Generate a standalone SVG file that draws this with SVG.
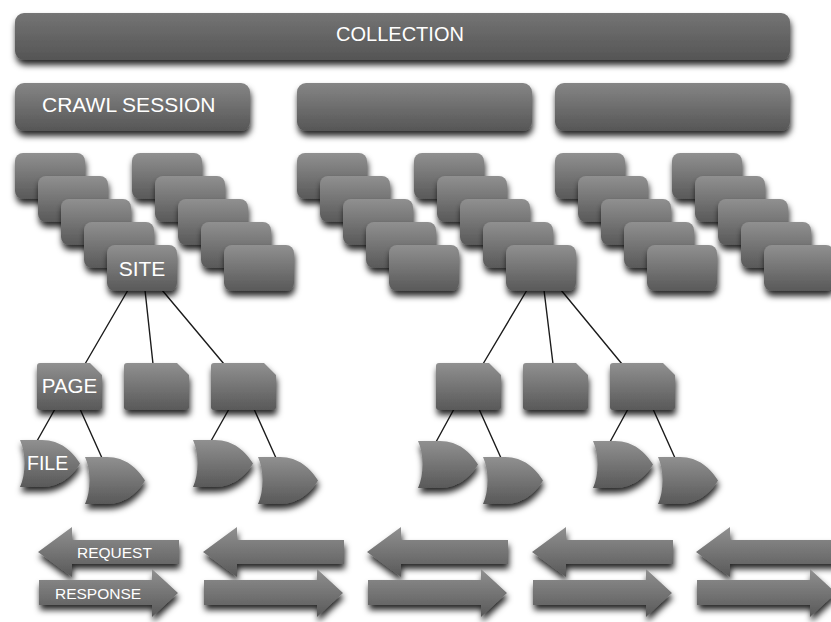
<svg xmlns="http://www.w3.org/2000/svg" xmlns:xlink="http://www.w3.org/1999/xlink" width="831" height="622" viewBox="0 0 831 622">
  <style>
    .lbl { font-family: "Liberation Sans", Arial, Helvetica, sans-serif; fill: #ffffff; }
    .link { stroke: #1c1c1c; stroke-width: 1.4; fill: none; stroke-linecap: round; }
    .sh { filter: url(#shadow); }
  </style>
  <defs>
    <linearGradient id="gCard" x1="0" y1="0" x2="0" y2="1">
      <stop offset="0" stop-color="#909090"/>
      <stop offset="1" stop-color="#595959"/>
    </linearGradient>
    <linearGradient id="gBar" x1="0" y1="0" x2="0" y2="1">
      <stop offset="0" stop-color="#858585"/>
      <stop offset="1" stop-color="#565656"/>
    </linearGradient>
    <linearGradient id="gTop" x1="0" y1="0" x2="0" y2="1">
      <stop offset="0" stop-color="#747474"/>
      <stop offset="1" stop-color="#555555"/>
    </linearGradient>
    <filter id="shadow" x="-20%" y="-30%" width="140%" height="180%">
      <feDropShadow dx="1" dy="5" stdDeviation="3.4" flood-color="#000000" flood-opacity="0.85"/>
    </filter>
    <!-- reusable shapes -->
    <rect id="card" width="70" height="46" rx="8" fill="url(#gCard)"/>
    <path id="page" fill="url(#gCard)" d="M3,0 H53 L65,12 V44 Q65,47 62,47 H3 Q0,47 0,44 V3 Q0,0 3,0 Z"/>
    <path id="file" fill="url(#gCard)" d="M0,0 H22 C41,0 53,12 60,23.5 C53,35 41,47 22,47 H0 C6,34 6,13 0,0 Z"/>
    <path id="reqArrow" fill="url(#gCard)" d="M0,25 L34,0 V13 H141 V37 H34 V50 Z"/>
    <path id="resArrow" fill="url(#gCard)" d="M1,11 H114 V0 L140,24 L114,48 V36 H1 Z"/>
  </defs>

  <rect width="831" height="622" fill="#ffffff"/>

  <!-- connectors: site to pages, page to files -->
  <g id="connectors">
    <line class="link" x1="128" y1="290" x2="85" y2="364"/>
    <line class="link" x1="145" y1="290" x2="153" y2="364"/>
    <line class="link" x1="162" y1="290" x2="224" y2="364"/>
    <line class="link" x1="55" y1="409" x2="37" y2="441"/>
    <line class="link" x1="80" y1="409" x2="102" y2="458"/>
    <line class="link" x1="229" y1="409" x2="211" y2="441"/>
    <line class="link" x1="254" y1="409" x2="276" y2="458"/>
    <line class="link" x1="527" y1="290" x2="483" y2="364"/>
    <line class="link" x1="544" y1="290" x2="553" y2="364"/>
    <line class="link" x1="561" y1="290" x2="622" y2="364"/>
    <line class="link" x1="454" y1="409" x2="436" y2="442"/>
    <line class="link" x1="479" y1="409" x2="501" y2="458"/>
    <line class="link" x1="628" y1="409" x2="610" y2="442"/>
    <line class="link" x1="653" y1="409" x2="675" y2="458"/>
  </g>

  <!-- collection and crawl sessions -->
  <g id="collection">
    <rect class="sh" x="15" y="13" width="775" height="47" rx="9" fill="url(#gTop)"/>
    <text class="lbl" x="400" y="41" font-size="20" text-anchor="middle">COLLECTION</text>
  </g>
  <g id="session-1">
    <rect class="sh" x="15" y="83" width="235" height="48" rx="9" fill="url(#gBar)"/>
    <text class="lbl" x="42" y="112" font-size="21">CRAWL SESSION</text>
  </g>
  <g id="session-2">
    <rect class="sh" x="297" y="83" width="235" height="48" rx="9" fill="url(#gBar)"/>
  </g>
  <g id="session-3">
    <rect class="sh" x="555" y="83" width="235" height="48" rx="9" fill="url(#gBar)"/>
  </g>

  <!-- sites, session 1 -->
  <g id="site-1-1"><use class="sh" xlink:href="#card" x="15" y="153"/></g>
  <g id="site-1-2"><use class="sh" xlink:href="#card" x="38" y="176"/></g>
  <g id="site-1-3"><use class="sh" xlink:href="#card" x="61" y="199"/></g>
  <g id="site-1-4"><use class="sh" xlink:href="#card" x="84" y="222"/></g>
  <g id="site-1-5">
    <use class="sh" xlink:href="#card" x="107" y="245"/>
    <text class="lbl" x="142" y="276" font-size="21" text-anchor="middle">SITE</text>
  </g>
  <g id="site-1-6"><use class="sh" xlink:href="#card" x="132" y="153"/></g>
  <g id="site-1-7"><use class="sh" xlink:href="#card" x="155" y="176"/></g>
  <g id="site-1-8"><use class="sh" xlink:href="#card" x="178" y="199"/></g>
  <g id="site-1-9"><use class="sh" xlink:href="#card" x="201" y="222"/></g>
  <g id="site-1-10"><use class="sh" xlink:href="#card" x="224" y="245"/></g>

  <!-- sites, session 2 -->
  <g id="site-2-1"><use class="sh" xlink:href="#card" x="297" y="153"/></g>
  <g id="site-2-2"><use class="sh" xlink:href="#card" x="320" y="176"/></g>
  <g id="site-2-3"><use class="sh" xlink:href="#card" x="343" y="199"/></g>
  <g id="site-2-4"><use class="sh" xlink:href="#card" x="366" y="222"/></g>
  <g id="site-2-5"><use class="sh" xlink:href="#card" x="389" y="245"/></g>
  <g id="site-2-6"><use class="sh" xlink:href="#card" x="414" y="153"/></g>
  <g id="site-2-7"><use class="sh" xlink:href="#card" x="437" y="176"/></g>
  <g id="site-2-8"><use class="sh" xlink:href="#card" x="460" y="199"/></g>
  <g id="site-2-9"><use class="sh" xlink:href="#card" x="483" y="222"/></g>
  <g id="site-2-10"><use class="sh" xlink:href="#card" x="506" y="245"/></g>

  <!-- sites, session 3 -->
  <g id="site-3-1"><use class="sh" xlink:href="#card" x="555" y="153"/></g>
  <g id="site-3-2"><use class="sh" xlink:href="#card" x="578" y="176"/></g>
  <g id="site-3-3"><use class="sh" xlink:href="#card" x="601" y="199"/></g>
  <g id="site-3-4"><use class="sh" xlink:href="#card" x="624" y="222"/></g>
  <g id="site-3-5"><use class="sh" xlink:href="#card" x="647" y="245"/></g>
  <g id="site-3-6"><use class="sh" xlink:href="#card" x="672" y="153"/></g>
  <g id="site-3-7"><use class="sh" xlink:href="#card" x="695" y="176"/></g>
  <g id="site-3-8"><use class="sh" xlink:href="#card" x="718" y="199"/></g>
  <g id="site-3-9"><use class="sh" xlink:href="#card" x="741" y="222"/></g>
  <g id="site-3-10"><use class="sh" xlink:href="#card" x="764" y="245"/></g>

  <!-- pages -->
  <g id="page-1-1">
    <use class="sh" xlink:href="#page" x="37" y="363"/>
    <text class="lbl" x="69.5" y="393" font-size="20.5" text-anchor="middle">PAGE</text>
  </g>
  <g id="page-1-2"><use class="sh" xlink:href="#page" x="124" y="363"/></g>
  <g id="page-1-3"><use class="sh" xlink:href="#page" x="211" y="363"/></g>
  <g id="page-2-1"><use class="sh" xlink:href="#page" x="436" y="363"/></g>
  <g id="page-2-2"><use class="sh" xlink:href="#page" x="523" y="363"/></g>
  <g id="page-2-3"><use class="sh" xlink:href="#page" x="610" y="363"/></g>

  <!-- files -->
  <g id="file-1-1">
    <use class="sh" xlink:href="#file" x="20" y="440"/>
    <text class="lbl" x="27" y="470" font-size="19.5">FILE</text>
  </g>
  <g id="file-1-2"><use class="sh" xlink:href="#file" x="85" y="457"/></g>
  <g id="file-1-3"><use class="sh" xlink:href="#file" x="193" y="440"/></g>
  <g id="file-1-4"><use class="sh" xlink:href="#file" x="258" y="457"/></g>
  <g id="file-2-1"><use class="sh" xlink:href="#file" x="418" y="441"/></g>
  <g id="file-2-2"><use class="sh" xlink:href="#file" x="483" y="457"/></g>
  <g id="file-2-3"><use class="sh" xlink:href="#file" x="593" y="441"/></g>
  <g id="file-2-4"><use class="sh" xlink:href="#file" x="658" y="457"/></g>

  <!-- request / response exchanges -->
  <g id="request-1">
    <use class="sh" xlink:href="#reqArrow" x="38" y="527"/>
    <text class="lbl" x="77" y="558" font-size="15.5">REQUEST</text>
  </g>
  <g id="response-1">
    <use class="sh" xlink:href="#resArrow" x="38" y="569"/>
    <text class="lbl" x="55" y="599" font-size="15.5">RESPONSE</text>
  </g>
  <g id="request-2"><use class="sh" xlink:href="#reqArrow" x="203" y="527"/></g>
  <g id="response-2"><use class="sh" xlink:href="#resArrow" x="203" y="569"/></g>
  <g id="request-3"><use class="sh" xlink:href="#reqArrow" x="367" y="527"/></g>
  <g id="response-3"><use class="sh" xlink:href="#resArrow" x="367" y="569"/></g>
  <g id="request-4"><use class="sh" xlink:href="#reqArrow" x="532" y="527"/></g>
  <g id="response-4"><use class="sh" xlink:href="#resArrow" x="532" y="569"/></g>
  <g id="request-5"><use class="sh" xlink:href="#reqArrow" x="696" y="527"/></g>
  <g id="response-5"><use class="sh" xlink:href="#resArrow" x="696" y="569"/></g>
</svg>
